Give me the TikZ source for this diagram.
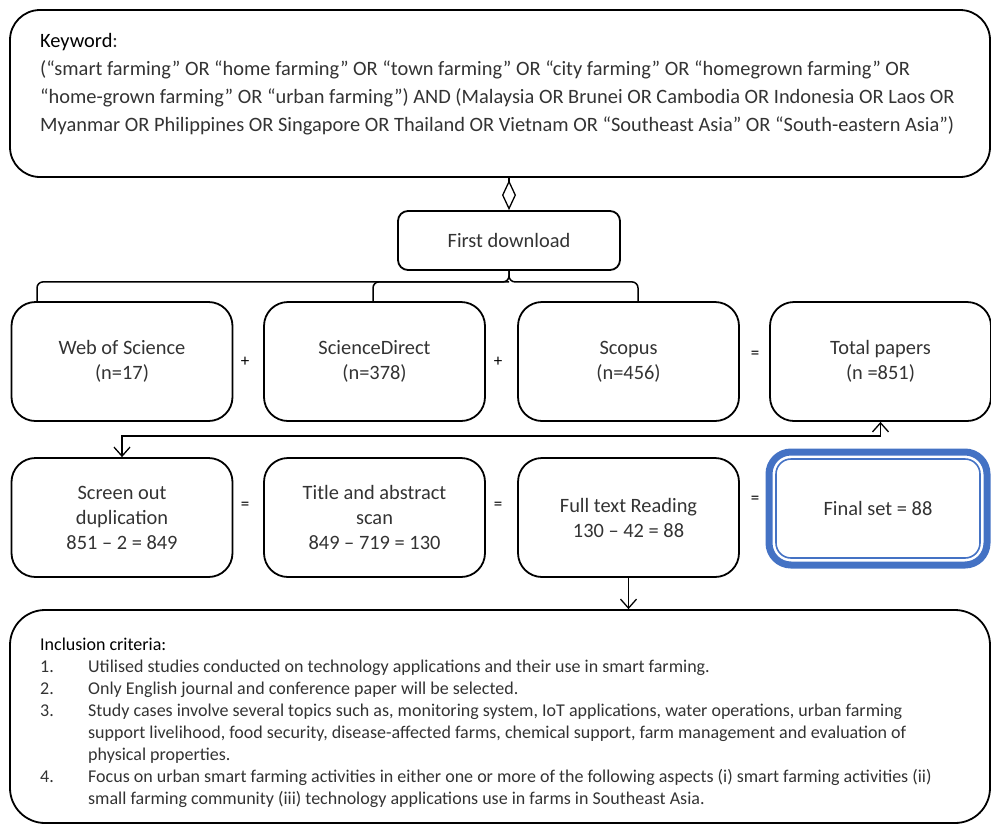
\documentclass[tikz,border=0pt]{standalone}
\usepackage{fontspec}
\setmainfont{Carlito}
\usepackage{tikz}
\usetikzlibrary{arrows.meta,positioning,calc}
\definecolor{frameblue}{HTML}{4472C4}
\definecolor{inkgray}{HTML}{333333}
\tikzset{
  vtip/.style={-{Straight Barb[length=9pt,width=16pt]},line width=1.3pt},
  dvtip/.style={{Straight Barb[length=9pt,width=16pt]}-{Straight Barb[length=9pt,width=16pt]},line width=1.3pt},
  diam/.style={-{Diamond[open,length=30pt,width=14pt]},line width=1.3pt},
  brace/.style={line width=1.5pt,rounded corners=6pt},
  bigbox/.style={rectangle,rounded corners=30pt,draw,line width=1.8pt,
    minimum width=980pt},
  box/.style={rectangle,rounded corners=24pt,minimum width=221pt,
    minimum height=119pt,align=center,draw,line width=1.8pt,
    font=\fontsize{20.4}{25}\selectfont,text=inkgray},
  sign/.style={font=\fontsize{17}{17}\selectfont,inner sep=0pt},
}

\begin{document}
\begin{tikzpicture}[x=1pt,y=-1pt]
\useasboundingbox (0,0) rectangle (991,823);

% search string
\node[bigbox,minimum height=167pt] (kw) at (500,93.5) {};
\node[anchor=north west,align=left,inner sep=0pt,text=inkgray,
  font=\fontsize{20.4}{28}\selectfont] (kwtext) at (40,33)
  {{\color{black}Keyword}:\\
  (“smart farming” OR “home farming” OR “town farming” OR “city farming” OR “homegrown farming” OR\\
  “home-grown farming” OR “urban farming”) AND (Malaysia OR Brunei OR Cambodia OR Indonesia OR Laos OR\\
  Myanmar OR Philippines OR Singapore OR Thailand OR Vietnam OR “Southeast Asia” OR “South-eastern Asia”)};

\node[box,rounded corners=10pt,minimum width=222pt,minimum height=59pt] (fd) at (509,240.5) {First download};

% databases
\node[box] (wos) at (122,361.5) {Web of Science\\(n=17)};
\node[box] (sd) at (374.5,361.5) {ScienceDirect\\(n=378)};
\node[box] (sco) at (628.5,361.5) {Scopus\\(n=456)};
\node[box] (tot) at (880.5,361.5) {Total papers\\(n =851)};
\node[sign] (p1) at (245,362) {+};
\node[sign] (p2) at (498,362) {+};
\node[sign] (e1) at (755,355) {=};

% screening
\node[box] (sod) at (122,517.5) {Screen out\\duplication\\851 – 2 = 849};
\node[box] (tas) at (374.5,517.5) {Title and abstract\\scan\\849 – 719 = 130};
\node[box] (ftr) at (628.5,517.5) {Full text Reading\\130 – 42 = 88};
\node[box,draw=frameblue,line width=7pt,outer sep=0pt,rounded corners=22pt,
  minimum width=218pt,minimum height=113pt] (fin) at (878,508.5) {Final set = 88};
\draw[frameblue,line width=1.6pt,rounded corners=15pt]
  ($(fin.north west)+(7,7)$) rectangle ($(fin.south east)+(-7,-7)$);
\node[sign] (e2) at (245,506) {=};
\node[sign] (e3) at (498,506) {=};
\node[sign] (e4) at (755,500) {=};

% criteria
\node[bigbox,rounded corners=35pt,minimum height=213pt] (inc) at (500,716.5) {};
\node[anchor=north west,align=left,inner sep=0pt,text=inkgray,
  font=\fontsize{18}{22}\selectfont] (inctext) at (40,638)
  {{\color{black}Inclusion criteria:}\\
  \begin{tabular}[t]{@{}p{48pt}@{}l@{}}
  1. & Utilised studies conducted on technology applications and their use in smart farming.\\
  2. & Only English journal and conference paper will be selected.\\
  3. & Study cases involve several topics such as, monitoring system, IoT applications, water operations, urban farming\\
     & support livelihood, food security, disease-affected farms, chemical support, farm management and evaluation of\\
     & physical properties.\\
  4. & Focus on urban smart farming activities in either one or more of the following aspects (i) smart farming activities (ii)\\
     & small farming community (iii) technology applications use in farms in Southeast Asia.
  \end{tabular}};

% connectors
\draw[diam] (fd.north |- kw.south) -- (fd.north);
\path (fd.south) ++(0,11) coordinate (bmid);
\coordinate (bw) at (37,302);
\coordinate (bs) at (373,302);
\coordinate (bp) at (638,302);
\draw[brace] (bw) |- (bmid) -- (fd.south);
\draw[brace] (bp) |- (bmid) -- (fd.south);
\draw[brace] (bs) |- (bmid);
\draw[dvtip] (sod.north) -- ++(0,-21) -| (tot.south);
\draw[vtip] (ftr.south) -- (ftr.south |- inc.north);
\end{tikzpicture}
\end{document}
